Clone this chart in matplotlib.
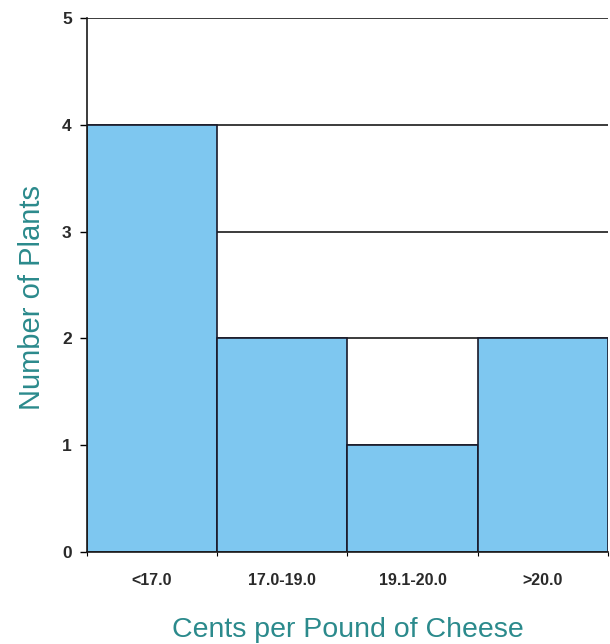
import numpy as np
import matplotlib.pyplot as plt
from matplotlib.ticker import FixedLocator

plt.rcParams['font.family'] = ['Liberation Sans', 'DejaVu Sans']

# 价格区间与工厂数量
price_bins = ['<17.0', '17.0-19.0', '19.1-20.0', '>20.0']
plant_counts = [4, 2, 1, 2]
y_ticks = [0, 1, 2, 3, 4, 5]

BAR_COLOR = '#7EC7F0'
LABEL_COLOR = '#2B8A8C'


def main() -> None:
    fig = plt.figure(figsize=(6.10, 6.44), dpi=100)
    ax = fig.add_axes([0.1426, 0.1429, 0.854, 0.829])

    x = np.arange(len(price_bins))
    ax.bar(x, plant_counts, width=1.0, color=BAR_COLOR,
           edgecolor='#1a1a2a', linewidth=1.2, zorder=2)

    ax.set_xlim(-0.5, len(price_bins) - 0.5)
    ax.set_ylim(0, 5)
    ax.set_yticks(y_ticks)
    ax.set_yticklabels([str(v) for v in y_ticks], fontsize=12.5, fontweight='bold', color='#2a2a2a')
    ax.set_xticks(x)
    ax.set_xticklabels(price_bins, fontsize=11.5, fontweight='bold', color='#2a2a2a')
    ax.xaxis.set_minor_locator(FixedLocator(np.arange(len(price_bins) + 1) - 0.5))
    ax.tick_params(axis='x', which='major', length=0, pad=15)
    ax.tick_params(axis='x', which='minor', length=3, width=0.8)
    ax.tick_params(axis='y', length=5, width=1, pad=6)

    ax.yaxis.grid(True, color='#1a1a1a', linewidth=1.2, zorder=0)
    ax.set_axisbelow(True)
    for side in ['top', 'right']:
        ax.spines[side].set_visible(False)
    for side in ['left', 'bottom']:
        ax.spines[side].set_linewidth(1.2)
        ax.spines[side].set_color('#1a1a1a')

    ax.set_ylabel('Number of Plants', fontsize=21, color=LABEL_COLOR)
    ax.yaxis.set_label_coords(-0.078, 0.476)
    ax.set_xlabel('Cents per Pound of Cheese', fontsize=20.5, color=LABEL_COLOR, labelpad=21)

    fig.savefig('out.png')


if __name__ == '__main__':
    main()
